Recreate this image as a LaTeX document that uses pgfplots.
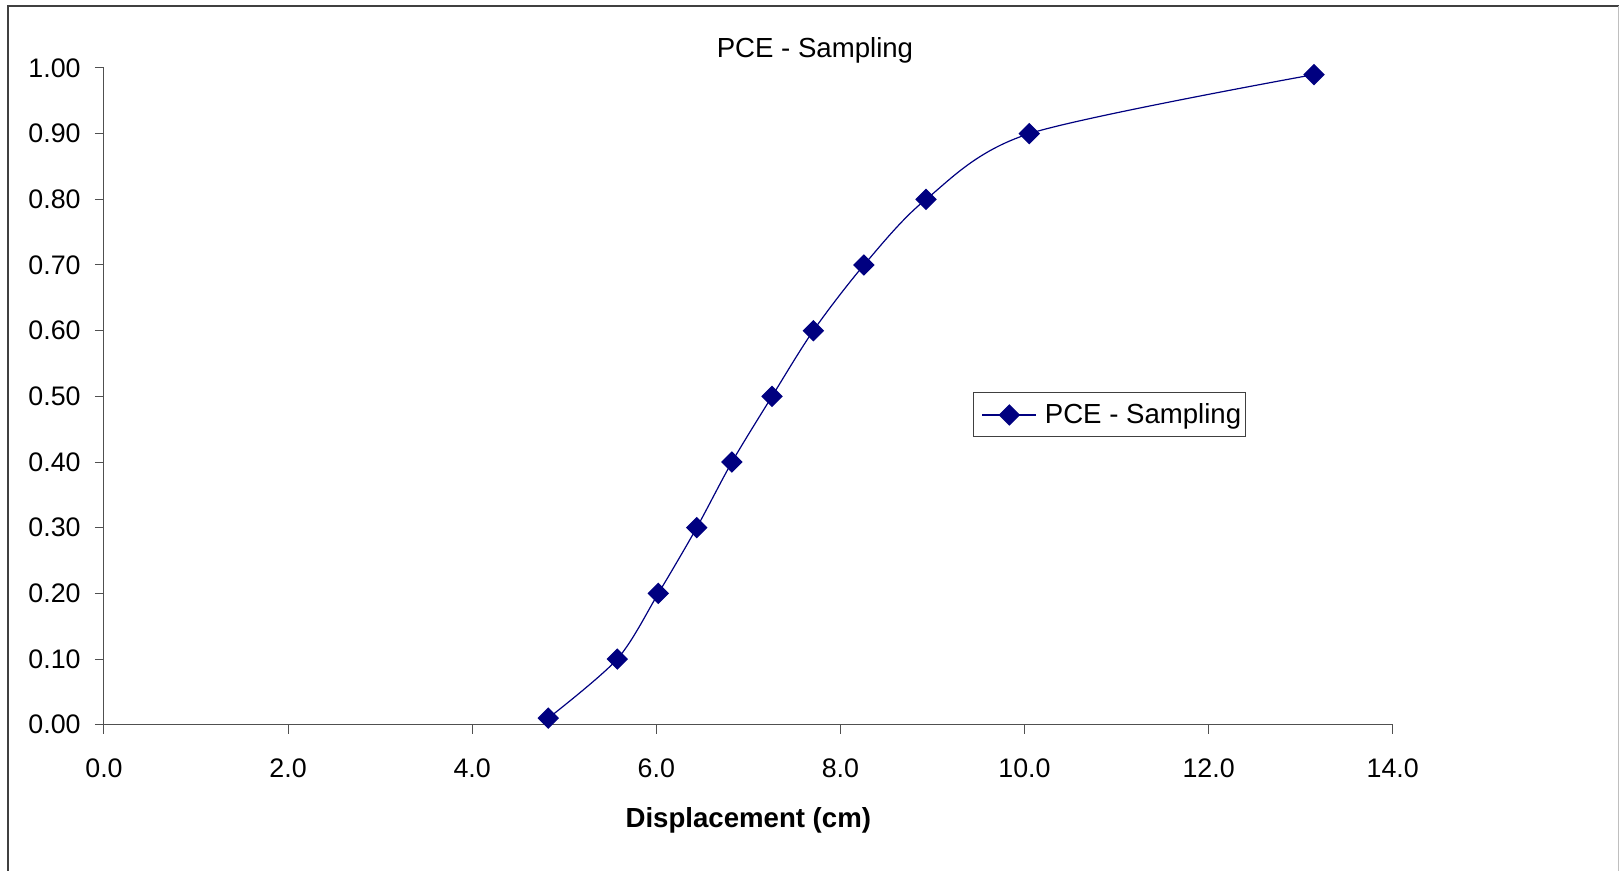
\documentclass[border=0pt]{standalone}
\usepackage{pgfplots}
\pgfplotsset{compat=1.18}
\usepackage{fontspec}
\setmainfont{Liberation Sans}
\definecolor{seriesnavy}{HTML}{000080}
\definecolor{framegray}{HTML}{404040}
\definecolor{axisgray}{HTML}{505050}

\begin{document}
\begin{tikzpicture}
% chart area frame (bottom edge is cropped)
\useasboundingbox (-52pt,-73.15pt) rectangle (757.5pt,362.35pt);
\draw[framegray, line width=1pt] (-48pt,-73.15pt) -- (-48pt,359.35pt) -- (757.5pt,359.35pt);
\draw[black!25, line width=0.6pt] (757.15pt,359.35pt) -- (757.15pt,-73.15pt);

\begin{axis}[
  at={(0pt,0pt)}, anchor=origin,
  scale only axis,
  width=644.35pt, height=328.35pt,
  xmin=0, xmax=14, ymin=0, ymax=1,
  axis x line*=bottom, axis y line*=left,
  axis line style={-, axisgray, line width=0.5pt},
  every tick/.style={axisgray, line width=0.5pt},
  tick align=outside,
  major tick length=4.5pt,
  xtick={0,2,4,6,8,10,12,14},
  ytick={0,0.1,0.2,0.3,0.4,0.5,0.6,0.7,0.8,0.9,1.0},
  minor tick num=0,
  /pgf/number format/assume math mode=true,
  xticklabel style={/pgf/number format/.cd, fixed, fixed zerofill, precision=1, /tikz/.cd,
    font=\fontsize{13.4}{15}\selectfont, inner sep=0pt, yshift=-12.5pt},
  yticklabel style={/pgf/number format/.cd, fixed, fixed zerofill, precision=2, /tikz/.cd,
    font=\fontsize{13.4}{15}\selectfont, inner sep=0pt, xshift=-7pt},
  scaled ticks=false,
  title={PCE - Sampling},
  title style={at={(0.5517,1.0172)}, anchor=base, yshift=-6.5pt, font=\fontsize{13.8}{16}\selectfont, inner sep=0pt},
  xlabel={Displacement (cm)},
  xlabel style={at={(0.5,-0.157)}, anchor=base, font=\fontsize{13.8}{16}\selectfont\bfseries, inner sep=0pt},
  legend style={at={(0.674,0.506)}, anchor=north west, draw=framegray, line width=0.5pt,
    font=\fontsize{13.8}{16}\selectfont, inner xsep=4.4pt, inner ysep=3.25pt,
    row sep=0pt, cells={anchor=west}},
  legend image code/.code={%
    \draw[#1, mark=none] (0pt,0pt) -- (26.9pt,0pt);
    \draw[#1, only marks] plot coordinates {(13.45pt,0pt)};},
  clip=false,
]
\addplot[seriesnavy, line width=0.6pt, smooth, tension=0.5,
  mark=square*, mark size=3.5pt, mark options={rotate=45, solid, fill=seriesnavy, draw=seriesnavy}]
  coordinates {
  (4.827,0.01)
  (5.576,0.10)
  (6.022,0.20)
  (6.439,0.30)
  (6.822,0.40)
  (7.257,0.50)
  (7.706,0.60)
  (8.256,0.70)
  (8.930,0.80)
  (10.052,0.90)
  (13.145,0.99)
};
\addlegendentry{\kern2pt PCE - Sampling\kern-4.4pt}
\end{axis}
\end{tikzpicture}
\end{document}
